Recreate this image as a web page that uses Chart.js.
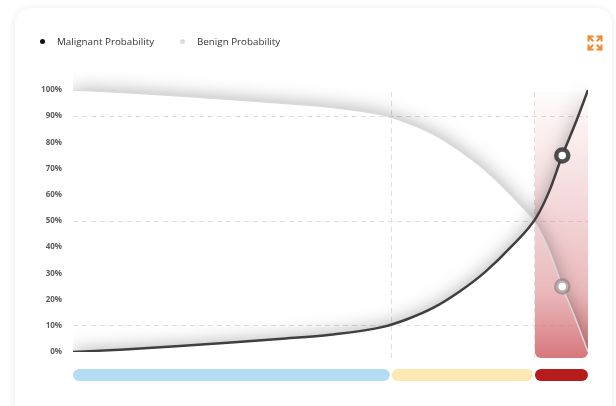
<!DOCTYPE html>
<html>
<head>
<meta charset="utf-8">
<script src="https://cdn.jsdelivr.net/npm/chart.js@4.4.1/dist/chart.umd.min.js"></script>
<style>
  html, body { margin: 0; padding: 0; background: #fff; width: 616px; height: 406px; overflow: hidden; }
  body { font-family: 'Open Sans', sans-serif; position: relative; }
  .card {
    position: absolute; left: 15px; top: 8px; width: 597px; height: 420px;
    background: #fff; border-radius: 16px; box-shadow: 0 1px 9px rgba(0, 0, 0, 0.09);
  }
  #chart { position: absolute; left: 0; top: 0; }
  .legend-item {
    position: absolute; top: 35px; display: flex; align-items: center;
    font-size: 9.8px; color: #333; white-space: nowrap;
  }
  .legend-item i { display: inline-block; width: 5px; height: 5px; border-radius: 50%; margin-right: 12px; }
  .expand { position: absolute; left: 587px; top: 35px; }
</style>
</head>
<body>
<div class="card"></div>
<canvas id="chart" width="616" height="406"></canvas>
<div id="legend"></div>
<svg class="expand" width="16" height="16" viewBox="0 0 16 16" fill="none" stroke="#f28a2a" stroke-width="2" stroke-linecap="square">
  <path d="M1.5 5.5v-4h4M1.5 1.5l4 4"/>
  <path d="M10.5 1.5h4v4M14.5 1.5l-4 4"/>
  <path d="M1.5 10.5v4h4M1.5 14.5l4-4"/>
  <path d="M14.5 10.5v4h-4M14.5 14.5l-4-4"/>
</svg>
<script>
// score axis (0-100) and probabilities in percent
const scores = [0, 10, 20, 30, 40, 50, 60, 65, 70, 75, 80, 85, 90, 92.5, 95, 97.5, 100];
const malignant = [0, 1, 2.2, 3.5, 5, 6.6, 9.5, 12.6, 16.9, 23, 30.5, 40, 51.5, 61.5, 75, 87, 100];
const benign = [100, 99, 97.8, 96.5, 95, 93.4, 90.5, 87.4, 83.1, 77, 69.5, 60, 48.5, 38.5, 25, 13, 0];

const seriesLabels = ['Malignant Probability', 'Benign Probability'];
const yTicks = [0, 10, 20, 30, 40, 50, 60, 70, 80, 90, 100];
const gridValues = [10, 50, 90];

// risk bands along the score axis
const bandStarts = [0, 61.7, 89.5];
const bandEnds = [61.7, 89.5, 100];
const bandColors = ['#b4dcf2', '#fde7b2', '#b71c1c'];
const cutoffs = [61.7, 89.5];
const markerScore = 95;

const DASH = [5, 4];
const GRID_COLOR = '#dedede';

// soft grey halo on the upper side of each curve: the area under the
// curve casts a shadow, and only the part above the curve is kept
const lineGlow = {
  id: 'lineGlow',
  beforeDatasetsDraw(chart) {
    const { ctx, chartArea } = chart;
    chart.data.datasets.forEach((ds, i) => {
      const line = chart.getDatasetMeta(i).dataset;
      if (!line || !ds.glow) return;
      const pts = line.points;
      const first = pts[0].x;
      const last = pts[pts.length - 1].x;
      ctx.save();
      ctx.beginPath();
      line.path(ctx);
      ctx.lineTo(last, chartArea.top - 60);
      ctx.lineTo(first, chartArea.top - 60);
      ctx.closePath();
      ctx.clip();
      ctx.beginPath();
      line.path(ctx);
      ctx.lineTo(last, chartArea.bottom + 400);
      ctx.lineTo(first, chartArea.bottom + 400);
      ctx.closePath();
      ctx.shadowColor = ds.glow;
      ctx.shadowBlur = 20;
      ctx.fillStyle = '#fff';
      ctx.fill();
      ctx.restore();
    });
  }
};

// high-risk zone, cutoff lines and the band strip under the plot
const riskZones = {
  id: 'riskZones',
  beforeDatasetsDraw(chart) {
    const { ctx, chartArea } = chart;
    const x = chart.scales.x;
    const left = x.getPixelForValue(cutoffs[1]);
    const right = chartArea.right;
    const top = chartArea.top + 2;
    const bottom = chartArea.bottom + 6;

    const g = ctx.createLinearGradient(0, top, 0, bottom);
    g.addColorStop(0, 'rgba(225, 140, 145, 0.03)');
    g.addColorStop(0.35, 'rgba(220, 135, 140, 0.27)');
    g.addColorStop(0.75, 'rgba(215, 120, 125, 0.52)');
    g.addColorStop(1, 'rgba(208, 100, 105, 0.88)');
    ctx.save();
    ctx.fillStyle = g;
    ctx.beginPath();
    ctx.roundRect(left + 1, top, right - left - 1, bottom - top, [0, 0, 6, 6]);
    ctx.fill();

    ctx.strokeStyle = GRID_COLOR;
    ctx.lineWidth = 1;
    ctx.setLineDash(DASH);
    cutoffs.forEach(c => {
      const px = Math.round(x.getPixelForValue(c)) + 0.5;
      ctx.beginPath();
      ctx.moveTo(px, top);
      ctx.lineTo(px, bottom);
      ctx.stroke();
    });
    ctx.restore();
  },
  afterDraw(chart) {
    const { ctx, chartArea } = chart;
    const x = chart.scales.x;
    const y0 = chartArea.bottom + 17;
    ctx.save();
    bandStarts.forEach((s, i) => {
      const a = x.getPixelForValue(s) + (i > 0 ? 1 : 0);
      const b = x.getPixelForValue(bandEnds[i]) - (i < bandStarts.length - 1 ? 1 : 0);
      ctx.fillStyle = bandColors[i];
      ctx.beginPath();
      ctx.roundRect(a, y0, b - a, 12, 6);
      ctx.fill();
    });
    ctx.restore();
  }
};

const markerRadius = c => scores[c.dataIndex] === markerScore ? 6 : 0;

const chart = new Chart(document.getElementById('chart'), {
  type: 'line',
  data: {
    datasets: [
      {
        label: seriesLabels[0],
        data: scores.map((s, i) => ({ x: s, y: malignant[i] })),
        borderColor: '#3f3f3f',
        borderWidth: 2.5,
        glow: 'rgba(0, 0, 0, 0.34)',
        legendColor: '#111',
        pointRadius: markerRadius,
        pointBorderWidth: 4.5,
        pointBackgroundColor: '#fff',
        pointBorderColor: 'rgba(60, 60, 60, 0.9)'
      },
      {
        label: seriesLabels[1],
        data: scores.map((s, i) => ({ x: s, y: benign[i] })),
        borderColor: '#d9d9d9',
        borderWidth: 1.5,
        glow: 'rgba(0, 0, 0, 0.34)',
        legendColor: '#dddddd',
        pointRadius: markerRadius,
        pointBorderWidth: 4.5,
        pointBackgroundColor: '#fff',
        pointBorderColor: 'rgba(130, 115, 115, 0.55)'
      }
    ]
  },
  options: {
    responsive: false,
    animation: false,
    cubicInterpolationMode: 'monotone',
    layout: { padding: { left: 0, top: 90, right: 28, bottom: 54 } },
    scales: {
      x: { type: 'linear', min: 0, max: 100, display: false },
      y: {
        min: 0,
        max: 100,
        afterFit(scale) { scale.width = 73; },
        afterBuildTicks(scale) { scale.ticks = yTicks.map(v => ({ value: v })); },
        border: { display: false, dash: DASH },
        grid: {
          drawTicks: false,
          color: c => gridValues.includes(c.tick.value) ? GRID_COLOR : 'transparent'
        },
        ticks: {
          padding: 11,
          color: '#5c5c5c',
          font: { family: "'Open Sans', sans-serif", size: 8, weight: '700' },
          callback: v => v + '%'
        }
      }
    },
    plugins: {
      legend: { display: false },
      tooltip: { enabled: false }
    }
  },
  plugins: [riskZones, lineGlow]
});

// html legend built from the datasets
const legendX = [40, 180];
const legend = document.getElementById('legend');
chart.data.datasets.forEach((ds, i) => {
  const item = document.createElement('div');
  item.className = 'legend-item';
  item.style.left = legendX[i] + 'px';
  const dot = document.createElement('i');
  dot.style.background = ds.legendColor;
  item.appendChild(dot);
  item.appendChild(document.createTextNode(ds.label));
  legend.appendChild(item);
});
</script>
</body>
</html>
